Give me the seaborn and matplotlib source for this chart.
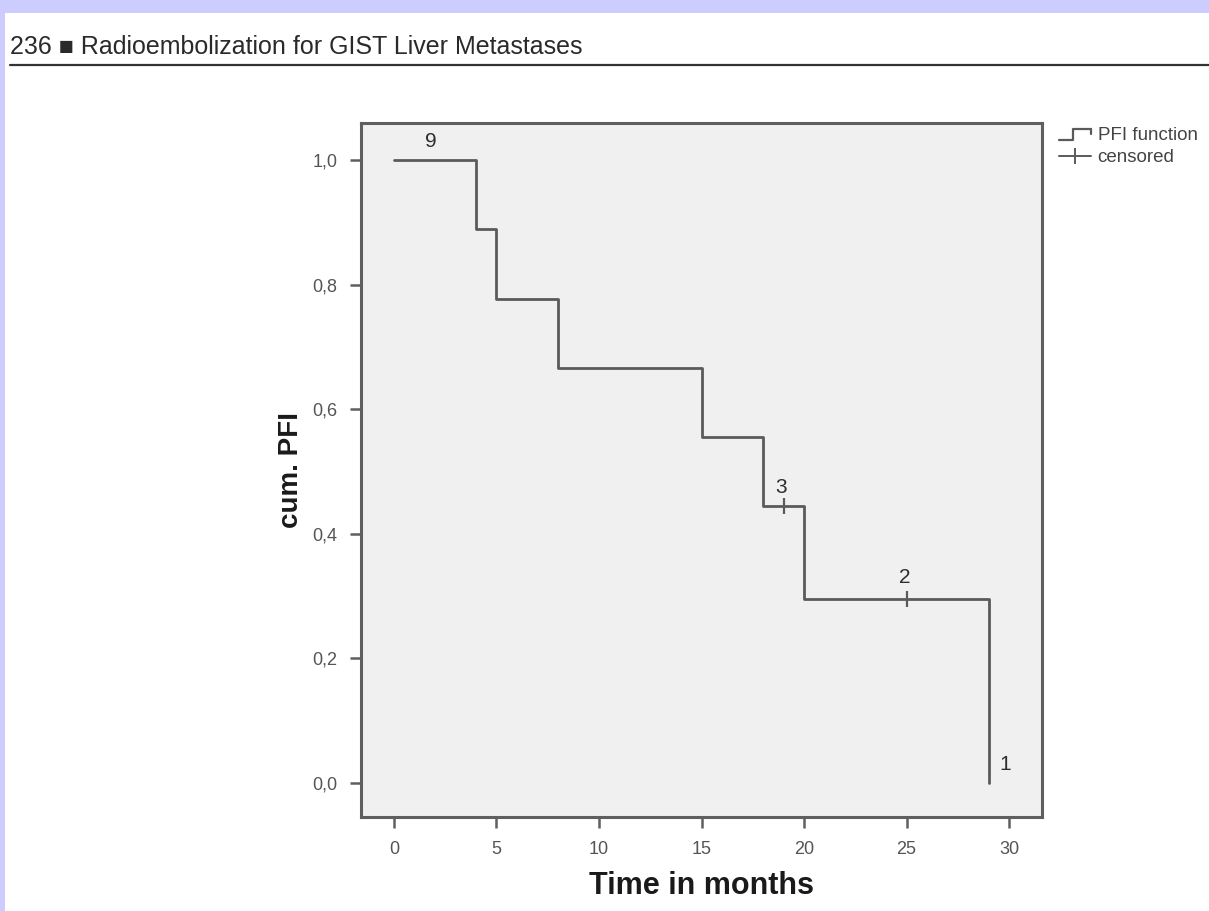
import matplotlib
matplotlib.use("Agg")
import matplotlib.pyplot as plt
from matplotlib.lines import Line2D
from matplotlib.legend_handler import HandlerBase
from matplotlib.patches import Rectangle
import seaborn as sns
import pandas as pd

# Kaplan-Meier progression-free interval (n = 9)
event_times = [0, 4, 5, 8, 15, 18, 20, 29]
cum_pfi = [1.0, 0.889, 0.778, 0.667, 0.556, 0.444, 0.296, 0.0]
censor_times = [19, 25]
censor_pfi = [0.444, 0.296]

# numbers at risk written beside the curve
risk_labels = ["9", "3", "2", "1"]
risk_x = [1.8, 18.9, 24.9, 29.8]
risk_y = [1.03, 0.475, 0.33, 0.03]

x_ticks = [0, 5, 10, 15, 20, 25, 30]
y_ticks = [0.0, 0.2, 0.4, 0.6, 0.8, 1.0]

sns.set_theme(style="white")
narrow = ["Liberation Sans Narrow", "Liberation Sans", "DejaVu Sans"]
plt.rcParams["font.family"] = narrow

line_col = "#5a5a5a"
spine_col = "#5f5f5f"

fig = plt.figure(figsize=(12.09, 9.11), dpi=100, facecolor="white")
W, H = 1209, 911

# page border strip
fig.patches.append(Rectangle((0, 1 - 13 / H), 1, 13 / H, transform=fig.transFigure,
                             facecolor="#ccccff", edgecolor="none", zorder=0))
fig.patches.append(Rectangle((0, 0), 5 / W, 1, transform=fig.transFigure,
                             facecolor="#ccccff", edgecolor="none", zorder=0))

# running header
fig.text(10 / W, 1 - 47 / H, "236 \u25a0 Radioembolization for GIST Liver Metastases",
         fontsize=18, color="#2a2a2a", va="center", ha="left",
         family=["Liberation Sans", "DejaVu Sans"])
fig.add_artist(Line2D([10 / W, 1], [1 - 65 / H, 1 - 65 / H], transform=fig.transFigure,
                      color="#333333", lw=1.6))

ax = fig.add_axes([361 / W, 1 - 817 / H, (1042 - 361) / W, (817 - 123) / H])
ax.set_facecolor("#f0f0f0")

km = pd.DataFrame({"time": event_times, "pfi": cum_pfi})
sns.lineplot(data=km, x="time", y="pfi", drawstyle="steps-post", color=line_col,
             lw=2.0, ax=ax, sort=False, legend=False)
cens = pd.DataFrame({"time": censor_times, "pfi": censor_pfi})
sns.scatterplot(data=cens, x="time", y="pfi", marker="|", s=140, linewidth=1.6,
                color=line_col, ax=ax, legend=False, zorder=3)

for lab, xx, yy in zip(risk_labels, risk_x, risk_y):
    ax.text(xx, yy, lab, fontsize=15, color="#2e2e2e", ha="center", va="center",
            family=["Liberation Sans", "DejaVu Sans"])

ax.set_xlim(-1.6, 31.6)
ax.set_ylim(-0.055, 1.06)
ax.set_xticks(x_ticks)
ax.set_xticklabels([str(t) for t in x_ticks])
ax.set_yticks(y_ticks)
ax.set_yticklabels([f"{t:.1f}".replace(".", ",") for t in y_ticks])
ax.tick_params(axis="both", direction="out", length=8, width=1.8, color=spine_col,
               labelsize=13, labelcolor="#555555", bottom=True, left=True, pad=9)
for sp in ax.spines.values():
    sp.set_color(spine_col)
    sp.set_linewidth(2.2)

ax.set_xlabel("Time in months", fontsize=22, fontweight="bold", color="#1a1a1a", labelpad=10)
ax.set_ylabel("cum. PFI", fontsize=20, fontweight="bold", color="#1a1a1a", labelpad=6)


class StepHandler(HandlerBase):
    def create_artists(self, legend, orig_handle, xdescent, ydescent, width, height,
                       fontsize, trans):
        xs = [0, width * 0.45, width * 0.45, width]
        ys = [height * 0.05, height * 0.05, height * 0.85, height * 0.85]
        ln = Line2D(xs, ys, color=line_col, lw=1.6, transform=trans)
        ln2 = Line2D([width, width], [height * 0.85, height * 0.45], color=line_col,
                     lw=1.6, transform=trans)
        return [ln, ln2]


step_handle = Line2D([], [], color=line_col)
cens_handle = Line2D([], [], color=line_col, lw=1.4, marker="|", markersize=12,
                     markeredgewidth=1.4)
fig.legend([step_handle, cens_handle], ["PFI function", "censored"],
           handler_map={step_handle: StepHandler()},
           loc="upper left", bbox_to_anchor=(1046 / W, 1 - 114 / H),
           frameon=False, fontsize=13.5, handlelength=1.7, handletextpad=0.35,
           labelspacing=0.25, labelcolor="#444444", borderaxespad=0.3)

fig.savefig("out.png", dpi=100, facecolor="white")
